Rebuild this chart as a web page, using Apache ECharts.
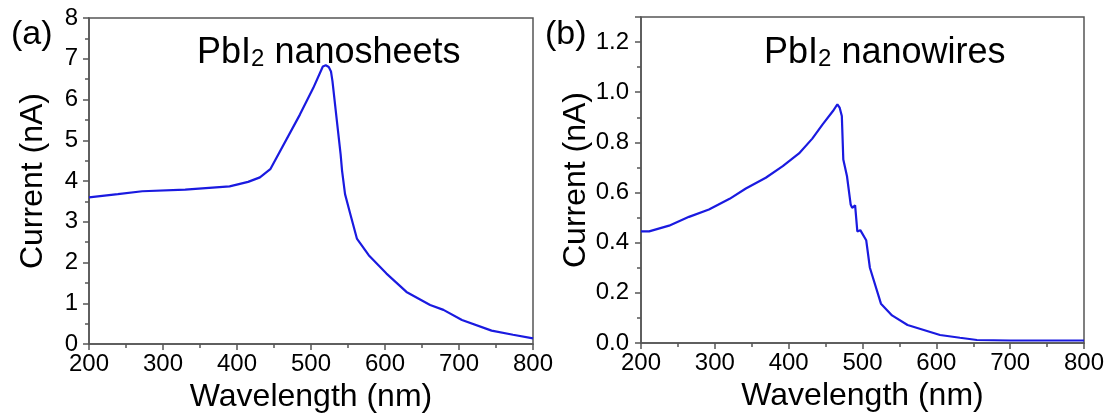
<!DOCTYPE html>
<html>
<head>
<meta charset="utf-8">
<script src="https://cdn.jsdelivr.net/npm/echarts@6/dist/echarts.min.js"></script>
<style>
  html, body { margin: 0; padding: 0; background: #fff; }
  #chart { width: 1115px; height: 418px; }
</style>
</head>
<body>
<div id="chart"></div>
<script>
// (a) PbI2 nanosheets
const sheetsWavelength = [200, 239, 272, 330, 390, 415, 431, 445, 485, 503, 516, 520, 524, 527, 529, 535, 540, 542, 546, 553, 562, 578, 602, 629, 661, 679, 704, 744, 773, 800];
const sheetsCurrent = [3.6, 3.68, 3.75, 3.79, 3.87, 3.98, 4.09, 4.29, 5.63, 6.28, 6.81, 6.84, 6.8, 6.69, 6.45, 5.47, 4.66, 4.25, 3.68, 3.2, 2.59, 2.18, 1.73, 1.28, 0.96, 0.84, 0.59, 0.33, 0.23, 0.14];

// (b) PbI2 nanowires
const wiresWavelength = [200, 211, 238, 265, 292, 320, 342, 369, 392, 414, 432, 446, 460, 466, 469, 472, 474, 479, 484, 486, 490, 493, 497, 499, 505, 510, 525, 540, 561, 605, 632, 655, 700, 800];
const wiresCurrent = [0.445, 0.445, 0.468, 0.503, 0.532, 0.575, 0.616, 0.659, 0.705, 0.756, 0.815, 0.872, 0.925, 0.952, 0.939, 0.905, 0.732, 0.665, 0.552, 0.539, 0.549, 0.445, 0.45, 0.44, 0.41, 0.3, 0.157, 0.11, 0.072, 0.032, 0.021, 0.012, 0.01, 0.01];

const xTicks = [200, 300, 400, 500, 600, 700, 800];

const FONT = 'Liberation Sans, Arial, sans-serif';
const AXIS_COLOR = '#555';
const LINE_COLOR = '#1a1ae0';

function pairs(xs, ys) {
    return xs.map((x, i) => [x, ys[i]]);
}

function xAxisFor(grid) {
    return {
        type: 'value',
        gridIndex: grid,
        min: xTicks[0],
        max: xTicks[xTicks.length - 1],
        interval: xTicks[1] - xTicks[0],
        name: 'Wavelength (nm)',
        nameLocation: 'middle',
        nameGap: 27,
        nameTextStyle: { fontSize: 32, fontFamily: FONT, color: '#000' },
        axisLine: { lineStyle: { color: AXIS_COLOR, width: 1.5 } },
        axisTick: { length: 6, lineStyle: { color: AXIS_COLOR, width: 1.5 } },
        minorTick: { show: true, splitNumber: 2, length: 4, lineStyle: { color: AXIS_COLOR, width: 1.5 } },
        splitLine: { show: false },
        axisLabel: { fontSize: 24, fontFamily: FONT, color: '#000', margin: 8 }
    };
}

function yAxisFor(grid, max, interval, labelFmt, gap, margin) {
    return {
        type: 'value',
        gridIndex: grid,
        min: 0,
        max: max,
        interval: interval,
        name: 'Current (nA)',
        nameLocation: 'middle',
        nameGap: gap,
        nameTextStyle: { fontSize: 32, fontFamily: FONT, color: '#000' },
        axisLine: { lineStyle: { color: AXIS_COLOR, width: 1.5 } },
        axisTick: { length: 6, lineStyle: { color: AXIS_COLOR, width: 1.5 } },
        minorTick: { show: true, splitNumber: 2, length: 4, lineStyle: { color: AXIS_COLOR, width: 1.5 } },
        splitLine: { show: false },
        axisLabel: {
            fontSize: 24, fontFamily: FONT, color: '#000', margin: margin,
            showMaxLabel: max % interval === 0,
            formatter: labelFmt
        }
    };
}

const chart = echarts.init(document.getElementById('chart'));

const richTitle = {
    a: { fontSize: 36, lineHeight: 44, fontFamily: FONT, color: '#000', verticalAlign: 'bottom' },
    s: { fontSize: 24, lineHeight: 24, fontFamily: FONT, color: '#000', verticalAlign: 'bottom' }
};

chart.setOption({
    animation: false,
    grid: [
        { left: 89, right: 582, top: 18, bottom: 72, show: true, borderColor: AXIS_COLOR, borderWidth: 1.5 },
        { left: 641, right: 31, top: 17, bottom: 75, show: true, borderColor: AXIS_COLOR, borderWidth: 1.5 }
    ],
    xAxis: [xAxisFor(0), xAxisFor(1)],
    yAxis: [
        yAxisFor(0, 8, 1, v => String(v), 40, 11),
        yAxisFor(1, 1.3, 0.2, v => v.toFixed(1), 44, 12)
    ],
    graphic: [
        { type: 'text', x: 11, y: 18, style: { text: '(a)', font: '34px ' + FONT, fill: '#000' } },
        { type: 'text', x: 545, y: 18, style: { text: '(b)', font: '34px ' + FONT, fill: '#000' } },
        { type: 'text', x: 197, y: 27, style: { text: '{a|PbI}{s|2}{a| nanosheets}', rich: richTitle } },
        { type: 'text', x: 764, y: 27, style: { text: '{a|PbI}{s|2}{a| nanowires}', rich: richTitle } }
    ],
    series: [
        {
            type: 'line', xAxisIndex: 0, yAxisIndex: 0,
            data: pairs(sheetsWavelength, sheetsCurrent),
            showSymbol: false, smooth: false,
            lineStyle: { color: LINE_COLOR, width: 2.2 }
        },
        {
            type: 'line', xAxisIndex: 1, yAxisIndex: 1,
            data: pairs(wiresWavelength, wiresCurrent),
            showSymbol: false, smooth: false,
            lineStyle: { color: LINE_COLOR, width: 2.2 }
        }
    ]
});
</script>
</body>
</html>
